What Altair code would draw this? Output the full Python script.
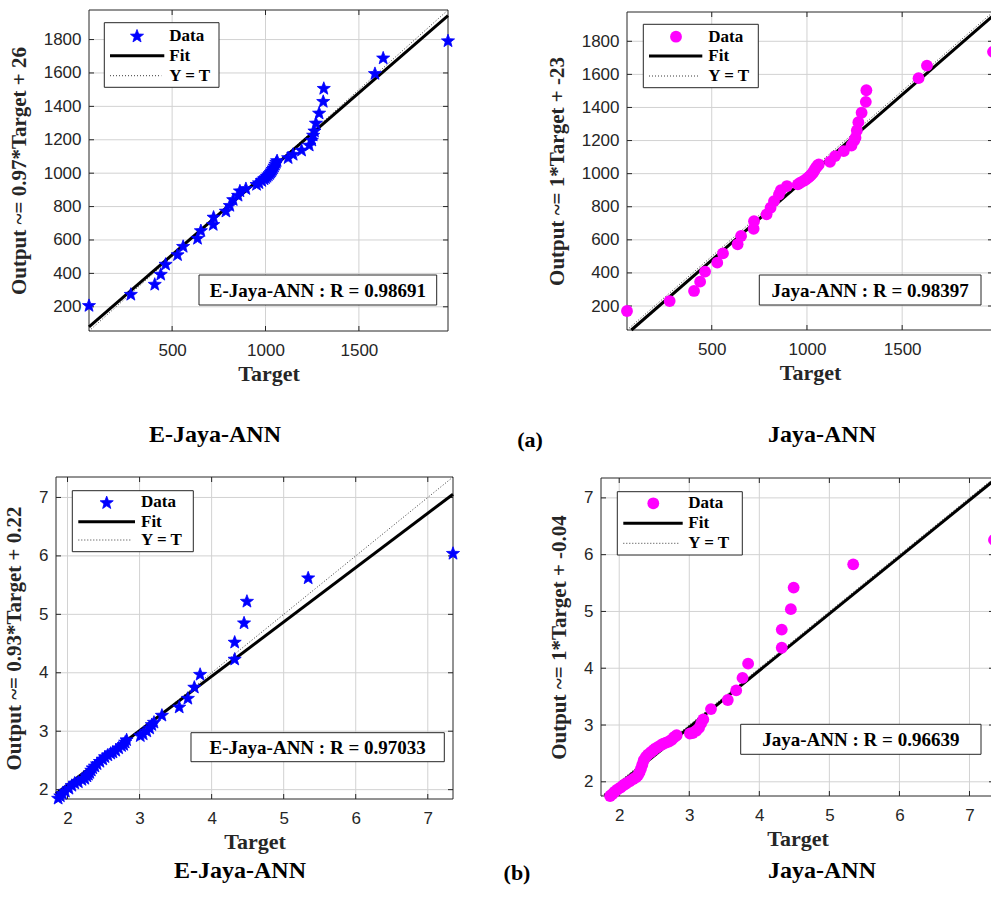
import altair as alt
import pandas as pd

# ---------------- data ----------------
# (a) original scale
target_a = [55, 279, 407, 439, 465, 529, 559, 636, 654, 720,
            722, 788, 809, 827, 853, 863, 895, 952, 965, 980,
            992, 1000, 1008, 1015, 1022, 1028, 1033, 1038, 1043, 1048,
            1053, 1058, 1062, 1121, 1148, 1193, 1234, 1248, 1255, 1262,
            1270, 1287, 1309, 1312, 1586, 1630, 1977]
output_ejaya_a = [210, 277, 337, 397, 457, 514, 564, 612, 658, 695,
                  739, 775, 809, 844, 870, 896, 910, 935, 945, 958,
                  968, 975, 983, 992, 1000, 1008, 1016, 1025, 1034, 1045,
                  1056, 1067, 1077, 1095, 1115, 1140, 1170, 1200, 1230, 1255,
                  1302, 1362, 1432, 1510, 1599, 1692, 1795]
output_jaya_a = [170, 230, 291, 347, 408, 462, 518, 573, 623, 667,
                 713, 754, 794, 834, 874, 900, 925, 935, 945, 955,
                 962, 970, 978, 985, 993, 1000, 1008, 1018, 1028, 1036,
                 1045, 1050, 1056, 1072, 1106, 1136, 1170, 1200, 1217, 1261,
                 1311, 1368, 1434, 1504, 1577, 1653, 1736]

# (b) second data set
target_b = [1.87, 1.90, 1.93, 1.97, 2.02, 2.06, 2.10, 2.15, 2.20, 2.24,
            2.27, 2.29, 2.31, 2.33, 2.35, 2.38, 2.41, 2.45, 2.49, 2.52,
            2.56, 2.60, 2.63, 2.67, 2.71, 2.75, 2.78, 2.80, 2.82, 3.01,
            3.05, 3.10, 3.14, 3.17, 3.20, 3.31, 3.55, 3.67, 3.76, 3.84,
            4.32, 4.32, 4.45, 4.49, 5.34, 7.35]
output_ejaya_b = [1.86, 1.90, 1.94, 1.98, 2.03, 2.08, 2.12, 2.14, 2.18, 2.20,
                  2.24, 2.27, 2.30, 2.34, 2.38, 2.41, 2.45, 2.49, 2.53, 2.57,
                  2.60, 2.63, 2.65, 2.68, 2.72, 2.76, 2.78, 2.82, 2.86, 2.93,
                  2.96, 3.01, 3.06, 3.12, 3.16, 3.28, 3.42, 3.57, 3.76, 3.98,
                  4.24, 4.53, 4.86, 5.23, 5.63, 6.05]
output_jaya_b = [1.75, 1.78, 1.82, 1.86, 1.90, 1.94, 1.97, 2.01, 2.05, 2.08,
                 2.12, 2.17, 2.23, 2.30, 2.38, 2.44, 2.48, 2.52, 2.56, 2.59,
                 2.62, 2.65, 2.67, 2.69, 2.71, 2.74, 2.78, 2.80, 2.82, 2.85,
                 2.86, 2.90, 2.95, 3.03, 3.10, 3.28, 3.44, 3.61, 3.83, 4.08,
                 4.36, 4.68, 5.04, 5.42, 5.83, 6.26]

fit_slopes = [0.97, 1.0, 0.93, 1.0]
fit_intercepts = [26, -23, 0.22, -0.04]
y_titles = ["Output ~= 0.97*Target + 26", "Output ~= 1*Target + -23",
            "Output ~= 0.93*Target + 0.22", "Output ~= 1*Target + -0.04"]
r_labels = ["E-Jaya-ANN : R = 0.98691", "Jaya-ANN : R = 0.98397",
            "E-Jaya-ANN : R = 0.97033", "Jaya-ANN : R = 0.96639"]
ticks_a_x = [500, 1000, 1500]
ticks_a_y = [200, 400, 600, 800, 1000, 1200, 1400, 1600, 1800]
ticks_b = [2, 3, 4, 5, 6, 7]
legend_labels = ["Data", "Fit", "Y = T"]
captions = ["E-Jaya-ANN", "(a)", "Jaya-ANN", "E-Jaya-ANN", "(b)", "Jaya-ANN"]

# ---------------- styling / layout ----------------
W, H = 991, 916
SERIF = "Liberation Serif"
SANS = "Liberation Sans"
DARK = "#262626"
GRID = "#d2d2d2"
STAR = ("M0,-0.905L0.247,-0.245L0.951,-0.214L0.399,0.225L0.588,0.904L0,0.515"
        "L-0.588,0.904L-0.399,0.225L-0.951,-0.214L-0.247,-0.245Z")
one = pd.DataFrame({"k": [0]})


def txt(x, y, s, size, align="left", weight="bold", font=SERIF):
    return alt.Chart(one).mark_text(
        font=font, fontWeight=weight, fontSize=size, color="black",
        align=align, baseline="middle").encode(
        x=alt.value(x), y=alt.value(y), text=alt.value(s))


def box(x1, y1, x2, y2):
    return alt.Chart(one).mark_rect(fill="white", stroke=DARK, strokeWidth=1).encode(
        x=alt.value(x1), x2=alt.value(x2), y=alt.value(y1), y2=alt.value(y2))


def marker(shape, size, color):
    if shape == "circle":
        return dict(shape=shape, filled=True, size=size, color=color, opacity=1)
    return dict(shape=shape, filled=True, size=size, color=color, opacity=1,
                stroke=color, strokeWidth=0.8)


def panel(k, tx, oy, xdom, ydom, xr, yr, xt, yt, color, shape, msize, leg, ann):
    xs = alt.Scale(domain=xdom, range=xr, nice=False, zero=False)
    ys = alt.Scale(domain=ydom, range=yr, nice=False, zero=False)

    def X(f, ax=None):
        return alt.X(f, scale=xs, axis=ax)

    def Y(f, ax=None):
        return alt.Y(f, scale=ys, axis=ax)

    gx = pd.DataFrame({"v": xt, "lo": ydom[0], "hi": ydom[1]})
    gy = pd.DataFrame({"v": yt, "lo": xdom[0], "hi": xdom[1]})
    frame = pd.DataFrame({"x0": [xdom[0]], "x1": [xdom[1]],
                          "y0": [ydom[0]], "y1": [ydom[1]]})
    a, b = fit_slopes[k], fit_intercepts[k]
    fit_df = pd.DataFrame({"Target": [max(xdom[0], (ydom[0] - b) / a),
                                      min(xdom[1], (ydom[1] - b) / a)]})
    yt_df = pd.DataFrame({"Target": [max(xdom[0], ydom[0]), min(xdom[1], ydom[1])]})
    pts = pd.DataFrame({"Target": tx, "Output": oy})

    lab = dict(labelFont=SANS, labelFontSize=17, labelColor=DARK, format="d",
               labelOverlap=False, labelFlush=False, ticks=False, tickSize=0,
               domain=False, grid=False, titleFont=SERIF, titleFontWeight="bold",
               titleColor=DARK)
    x_ax = alt.Axis(orient="bottom", offset=yr[0] - H, values=xt, title="Target",
                    labelPadding=11, titlePadding=5, titleFontSize=22, **lab)
    y_ax = alt.Axis(orient="left", offset=-xr[0], values=yt, title=y_titles[k],
                    labelPadding=8, titlePadding=14, titleFontSize=21, **lab)

    L = [
        alt.Chart(gx).mark_rule(color=GRID, strokeWidth=1).encode(
            x=X("v:Q"), y=Y("lo:Q"), y2="hi:Q"),
        alt.Chart(gy).mark_rule(color=GRID, strokeWidth=1).encode(
            y=Y("v:Q"), x=X("lo:Q"), x2="hi:Q"),
        alt.Chart(gx).mark_rule(color=DARK, strokeWidth=1, y2Offset=-5).encode(
            x=X("v:Q"), y=Y("lo:Q"), y2="lo:Q"),
        alt.Chart(gx).mark_rule(color=DARK, strokeWidth=1, y2Offset=5).encode(
            x=X("v:Q"), y=Y("hi:Q"), y2="hi:Q"),
        alt.Chart(gy).mark_rule(color=DARK, strokeWidth=1, x2Offset=5).encode(
            y=Y("v:Q"), x=X("lo:Q"), x2="lo:Q"),
        alt.Chart(gy).mark_rule(color=DARK, strokeWidth=1, x2Offset=-5).encode(
            y=Y("v:Q"), x=X("hi:Q"), x2="hi:Q"),
        alt.Chart(frame).mark_rect(filled=False, stroke=DARK, strokeWidth=1).encode(
            x=X("x0:Q"), x2="x1:Q", y=Y("y0:Q"), y2="y1:Q"),
        alt.Chart(yt_df).transform_calculate(Output="datum.Target").mark_line(
            color="#3a3a3a", strokeWidth=1, strokeDash=[1, 2]).encode(
            x=X("Target:Q"), y=Y("Output:Q")),
        alt.Chart(fit_df).transform_calculate(
            Output=f"{a} * datum.Target + ({b})").mark_line(
            color="black", strokeWidth=3).encode(x=X("Target:Q"), y=Y("Output:Q")),
        alt.Chart(pts).mark_point(**marker(shape, msize, color)).encode(
            x=X("Target:Q", x_ax), y=Y("Output:Q", y_ax)),
    ]
    # legend
    bx1, by1, bx2, by2, mx, tx0, lx1, lx2, rows = leg
    L += [
        box(bx1, by1, bx2, by2),
        alt.Chart(one).mark_point(**marker(shape, msize, color)).encode(
            x=alt.value(mx), y=alt.value(rows[0])),
        alt.Chart(one).mark_rule(color="black", strokeWidth=3).encode(
            x=alt.value(lx1), x2=alt.value(lx2), y=alt.value(rows[1])),
        alt.Chart(one).mark_rule(color="#3a3a3a", strokeWidth=1, strokeDash=[1, 2]).encode(
            x=alt.value(lx1), x2=alt.value(lx2 - 3), y=alt.value(rows[2])),
    ]
    for s, ry in zip(legend_labels, rows):
        L.append(txt(tx0, ry, s, 17))
    ax1, ay1, ax2, ay2 = ann
    L += [box(ax1, ay1, ax2, ay2),
          txt((ax1 + ax2) / 2, (ay1 + ay2) / 2 + 1, r_labels[k], 19, align="center")]
    return L


layers = []
layers += panel(0, target_a, output_ejaya_a, [55, 1977], [55, 1977], [89, 448], [331, 10],
                ticks_a_x, ticks_a_y, "#0000ff", STAR, 190,
                (104.3, 22.7, 219, 87.3, 137, 169.3, 110, 164.3, (35.7, 55.7, 75.7)),
                (199, 275, 436.7, 305))
layers += panel(1, target_a, output_jaya_a, [55, 1977], [55, 1977], [627, 993], [330, 12],
                ticks_a_x, ticks_a_y, "#ff00ff", "circle", 140,
                (643.3, 24.3, 758.3, 87.7, 676, 708.3, 649, 702.3, (36.7, 56, 76)),
                (759.3, 275, 981, 305))
layers += panel(2, target_b, output_ejaya_b, [1.84, 7.35], [1.84, 7.35], [56, 453], [799, 477],
                ticks_b, ticks_b, "#0000ff", STAR, 190,
                (72.3, 490.7, 193.3, 551.7, 106.7, 141, 78.3, 135, (502.3, 521.7, 540)),
                (191, 732.7, 444.3, 761.7))
layers += panel(3, target_b, output_jaya_b, [1.74, 7.35], [1.75, 7.35], [601, 994], [796, 478],
                ticks_b, ticks_b, "#ff00ff", "circle", 140,
                (617.3, 491.7, 742.3, 555, 653.3, 688.3, 623.3, 682.7, (503.3, 523.3, 543.3)),
                (740.7, 724.3, 981, 754.3))

cap_pos = [(215, 435, 24), (530, 440, 22), (822, 435, 24),
           (240, 871, 24), (517, 873, 22), (822, 871, 24)]
for s, (cx, cy, fs) in zip(captions, cap_pos):
    layers.append(txt(cx, cy, s, fs, align="center"))

chart = alt.layer(*layers).resolve_scale(
    x="independent", y="independent").resolve_axis(
    x="independent", y="independent").properties(
    width=W, height=H, padding=0,
    autosize=alt.AutoSizeParams(type="none")).configure_view(stroke=None)

chart.save("out.html", embed_options={"renderer": "svg", "actions": False})
